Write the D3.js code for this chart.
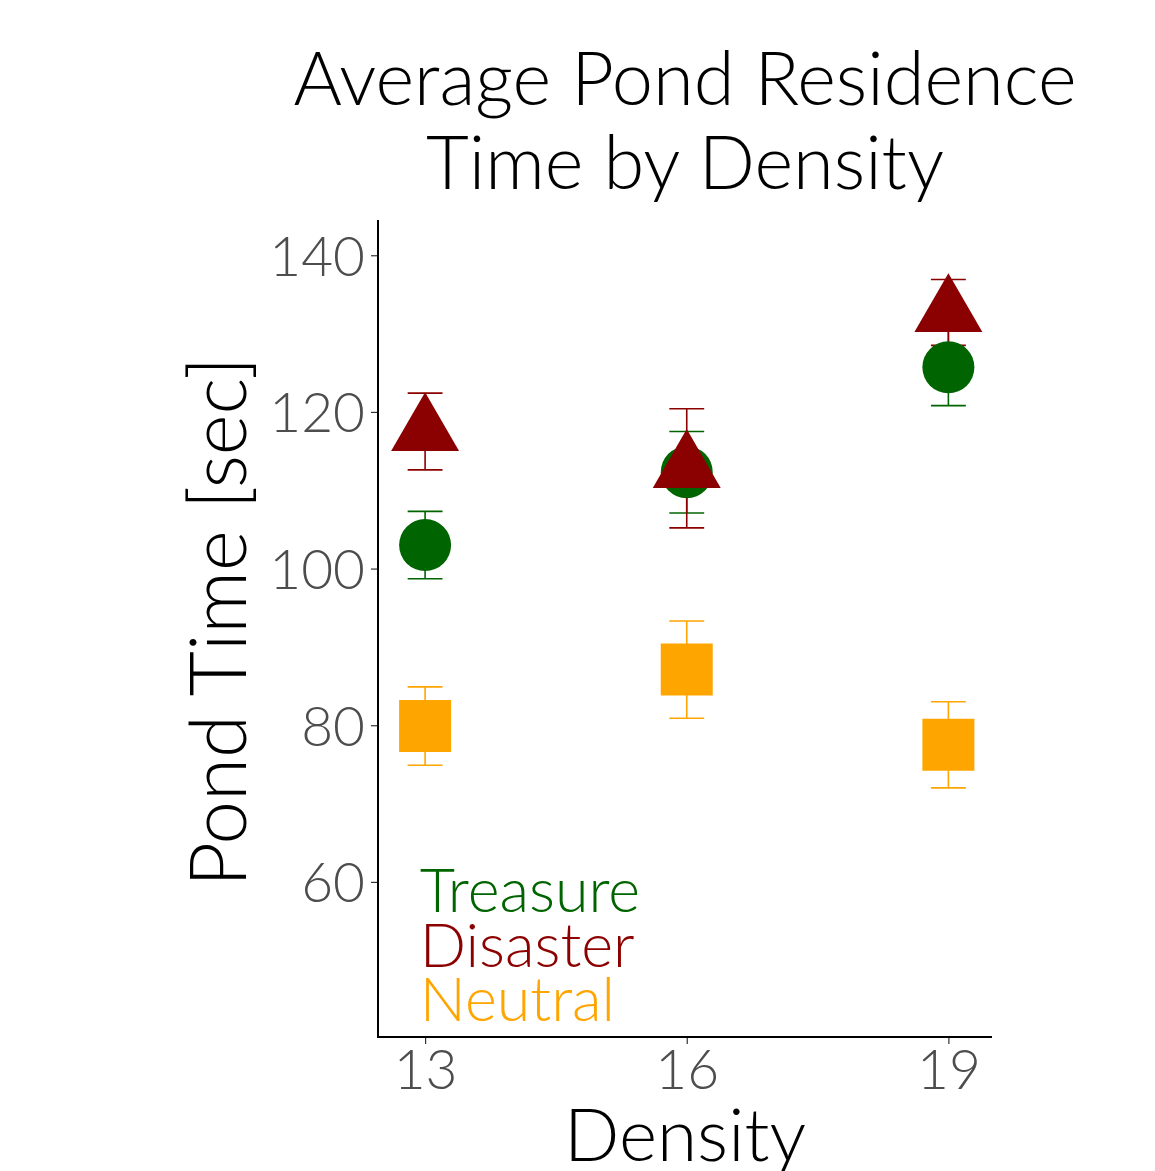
<!DOCTYPE html>
<html>
<head>
<meta charset="utf-8">
<script src="https://cdn.jsdelivr.net/npm/d3@7"></script>
<style>
  html, body { margin: 0; padding: 0; background: #fff; }
  svg { display: block; }
  text { font-family: "Lato", "Open Sans", sans-serif; }
</style>
</head>
<body>
<svg id="chart" width="1155" height="1171"></svg>
<script>
// Mean pond residence time (sec) with error bars, by density and pond type
const densities = [13, 16, 19];
const groups = ["Treasure", "Disaster", "Neutral"];
const groupColors = ["#006400", "#8B0000", "#FFA500"];
const groupShapes = ["circle", "triangle", "square"];

const treasureMean = [103.0, 112.3, 125.7];
const treasureErr  = [4.3, 5.2, 4.9];
const disasterMean = [117.5, 112.8, 132.7];
const disasterErr  = [4.9, 7.6, 4.2];
const neutralMean  = [79.9, 87.1, 77.5];
const neutralErr   = [5.0, 6.2, 5.5];

const yTicks = [60, 80, 100, 120, 140];
const legendY = [59, 52, 45];

const titleLines = ["Average Pond Residence", "Time by Density"];
const xTitle = "Density";
const yTitle = "Pond Time [sec]";

const means = [treasureMean, disasterMean, neutralMean];
const errs = [treasureErr, disasterErr, neutralErr];

const rows = [];
groups.forEach((g, gi) => {
  densities.forEach((d, di) => {
    rows.push({ group: g, gi, density: d, mean: means[gi][di], err: errs[gi][di] });
  });
});

const svg = d3.select("#chart");
const panel = { left: 378, right: 992, top: 220, bottom: 1037 };

const x = d3.scaleLinear().domain([12.46, 19.5]).range([panel.left, panel.right]);
const y = d3.scaleLinear().domain([40.2, 144.5]).range([panel.bottom, panel.top]);

// Error bars
const eb = svg.append("g").attr("class", "errorbars");
const capHalf = 0.2;
rows.forEach(r => {
  const c = groupColors[r.gi];
  const g = eb.append("g").attr("stroke", c).attr("stroke-width", 1.6).attr("fill", "none");
  g.append("line").attr("x1", x(r.density)).attr("x2", x(r.density))
    .attr("y1", y(r.mean + r.err)).attr("y2", y(r.mean - r.err));
  [r.mean + r.err, r.mean - r.err].forEach(v => {
    g.append("line").attr("x1", x(r.density - capHalf)).attr("x2", x(r.density + capHalf))
      .attr("y1", y(v)).attr("y2", y(v));
  });
});

// Points
const symbolType = { circle: d3.symbolCircle, triangle: d3.symbolTriangle, square: d3.symbolSquare };
const symbolSize = { circle: 2124, triangle: 2000, square: 2704 };
svg.append("g").attr("class", "points")
  .selectAll("path").data(rows).join("path")
  .attr("transform", d => `translate(${x(d.density)},${y(d.mean)})`)
  .attr("d", d => d3.symbol().type(symbolType[groupShapes[d.gi]]).size(symbolSize[groupShapes[d.gi]])())
  .attr("fill", d => groupColors[d.gi]);

// Axes
const xAxis = d3.axisBottom(x).tickValues(densities).tickSize(7).tickPadding(8).tickFormat(d3.format("d"));
const yAxis = d3.axisLeft(y).tickValues(yTicks).tickSize(7).tickPadding(6).tickFormat(d3.format("d"));

const gx = svg.append("g").attr("transform", `translate(0,${panel.bottom})`).call(xAxis);
const gy = svg.append("g").attr("transform", `translate(${panel.left},0)`).call(yAxis);

[gx, gy].forEach(g => {
  g.select(".domain").remove();
  g.selectAll(".tick line").attr("stroke", "#333").attr("stroke-width", 1.2);
  g.selectAll(".tick text").attr("fill", "#4d4d4d").attr("font-size", 55)
    .attr("font-family", "Lato, sans-serif").attr("font-weight", 300);
});
gx.selectAll(".tick text").attr("dy", "0.68em");
gy.selectAll(".tick text").attr("dy", "0.36em");

// Axis lines
svg.append("line").attr("x1", panel.left).attr("x2", panel.left)
  .attr("y1", panel.top).attr("y2", panel.bottom + 1).attr("stroke", "#000").attr("stroke-width", 2);
svg.append("line").attr("x1", panel.left - 1).attr("x2", panel.right)
  .attr("y1", panel.bottom).attr("y2", panel.bottom).attr("stroke", "#000").attr("stroke-width", 2);

// Legend labels drawn as coloured text in the panel
svg.append("g").attr("class", "legend")
  .selectAll("text").data(groups).join("text")
  .attr("x", x(12.94))
  .attr("y", (d, i) => y(legendY[i]))
  .attr("dy", "0.36em")
  .attr("font-size", 61)
  .attr("font-weight", 300)
  .attr("fill", (d, i) => groupColors[i])
  .text(d => d);

// Title
const cx = (panel.left + panel.right) / 2;
svg.append("g").attr("class", "title")
  .selectAll("text").data(titleLines).join("text")
  .attr("x", cx)
  .attr("y", (d, i) => 105 + i * 84)
  .attr("text-anchor", "middle")
  .attr("font-size", 74)
  .attr("font-weight", 300)
  .attr("fill", "#000")
  .text(d => d);

// Axis titles
svg.append("text")
  .attr("x", cx)
  .attr("y", 1161)
  .attr("text-anchor", "middle")
  .attr("font-size", 73)
  .attr("font-weight", 300)
  .attr("fill", "#000")
  .text(xTitle);

svg.append("text")
  .attr("transform", `translate(246,622) rotate(-90)`)
  .attr("text-anchor", "middle")
  .attr("font-size", 78)
  .attr("font-weight", 300)
  .attr("fill", "#000")
  .text(yTitle);
</script>
</body>
</html>
